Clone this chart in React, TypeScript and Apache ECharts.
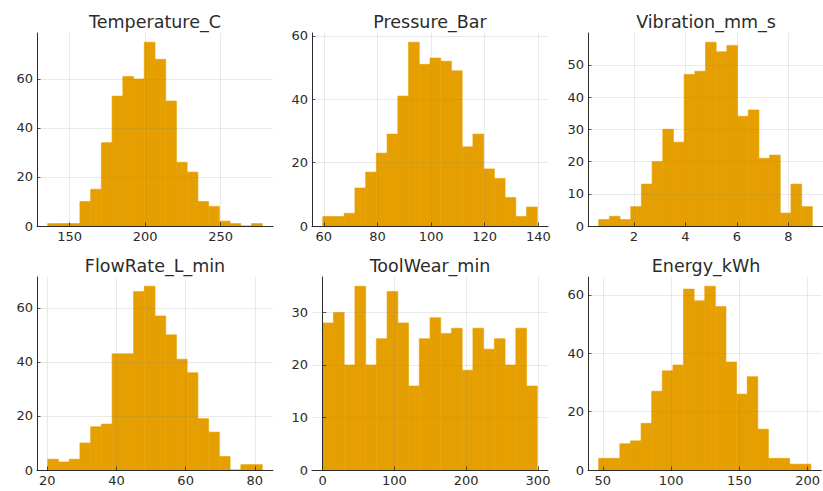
import React, { useEffect, useRef } from "react";
import * as echarts from "echarts";

// ---- data ----
const titles = ["Temperature_C", "Pressure_Bar", "Vibration_mm_s", "FlowRate_L_min", "ToolWear_min", "Energy_kWh"];

const temperatureCounts = [1, 1, 1, 10, 15, 34, 53, 61, 60, 75, 68, 51, 26, 22, 10, 8, 2, 1, 0, 1];
const temperatureRange = [135.5, 277.5];
const temperatureXTicks = [150, 200, 250];
const temperatureYTicks = [0, 20, 40, 60];

const pressureCounts = [3, 3, 4, 12, 17, 23, 29, 41, 58, 51, 53, 52, 49, 25, 29, 18, 15, 9, 3, 6];
const pressureRange = [59.6, 139.6];
const pressureXTicks = [60, 80, 100, 120, 140];
const pressureYTicks = [0, 20, 40, 60];

const vibrationCounts = [2, 3, 2, 6, 13, 20, 30, 26, 47, 48, 57, 54, 56, 34, 36, 21, 22, 4, 13, 6];
const vibrationRange = [0.634, 8.93];
const vibrationXTicks = [2, 4, 6, 8];
const vibrationYTicks = [0, 10, 20, 30, 40, 50];

const flowCounts = [4, 3, 4, 10, 16, 17, 43, 43, 66, 68, 57, 50, 41, 36, 19, 14, 5, 0, 2, 2];
const flowRange = [20.15, 82.15];
const flowXTicks = [20, 40, 60, 80];
const flowYTicks = [0, 20, 40, 60];

const toolWearCounts = [28, 30, 20, 35, 20, 25, 34, 28, 16, 25, 29, 26, 27, 19, 27, 23, 25, 20, 27, 16];
const toolWearRange = [0, 299];
const toolWearXTicks = [0, 100, 200, 300];
const toolWearYTicks = [0, 10, 20, 30];

const energyCounts = [4, 4, 9, 10, 16, 27, 34, 36, 62, 58, 63, 56, 37, 26, 32, 14, 4, 4, 2, 2];
const energyRange = [46.9, 202.4];
const energyXTicks = [50, 100, 150, 200];
const energyYTicks = [0, 20, 40, 60];

const panels = [
  { title: titles[0], counts: temperatureCounts, range: temperatureRange, xTicks: temperatureXTicks, yTicks: temperatureYTicks },
  { title: titles[1], counts: pressureCounts, range: pressureRange, xTicks: pressureXTicks, yTicks: pressureYTicks },
  { title: titles[2], counts: vibrationCounts, range: vibrationRange, xTicks: vibrationXTicks, yTicks: vibrationYTicks },
  { title: titles[3], counts: flowCounts, range: flowRange, xTicks: flowXTicks, yTicks: flowYTicks },
  { title: titles[4], counts: toolWearCounts, range: toolWearRange, xTicks: toolWearXTicks, yTicks: toolWearYTicks },
  { title: titles[5], counts: energyCounts, range: energyRange, xTicks: energyXTicks, yTicks: energyYTicks },
];

// ---- layout ----
const colLeft = [37, 312, 588];
const rowTop = [33, 277];
const plotW = 236;
const plotH = 193;
const FONT = "DejaVu Sans";
const BAR = "#E69F00";
const INK = "#2b2b2b";

export default function App() {
  const ref = useRef<HTMLDivElement>(null);
  useEffect(() => {
    if (!ref.current) return;
    const chart = echarts.init(ref.current, undefined, { renderer: "svg" });

    const grid: any[] = [];
    const xAxis: any[] = [];
    const yAxis: any[] = [];
    const series: any[] = [];
    const title: any[] = [];

    panels.forEach((p, i) => {
      const col = i % 3;
      const row = Math.floor(i / 3);
      const [lo, hi] = p.range;
      const n = p.counts.length;
      const w = (hi - lo) / n;
      const span = hi - lo;
      const maxC = Math.max(...p.counts);

      grid.push({ left: colLeft[col], top: rowTop[row], width: plotW, height: plotH, containLabel: false });
      title.push({
        text: p.title,
        left: colLeft[col] + plotW / 2,
        top: rowTop[row] - 20,
        textAlign: "center",
        padding: 0,
        textStyle: { fontFamily: FONT, fontSize: 17.5, fontWeight: "normal", color: INK },
      });
      xAxis.push({
        type: "value",
        gridIndex: i,
        min: lo - 0.05 * span,
        max: hi + 0.05 * span,
        z: 3,
        axisLine: { show: true, onZero: false, lineStyle: { color: INK, width: 1 } },
        axisTick: { show: true, inside: true, length: 3.5, customValues: p.xTicks, lineStyle: { color: INK, width: 0.8 } },
        axisLabel: { customValues: p.xTicks, margin: 4, fontSize: 13, color: INK, fontFamily: FONT },
        splitLine: { show: true, lineStyle: { color: "rgba(128,128,128,0.22)", width: 0.8 } },
      });
      yAxis.push({
        type: "value",
        gridIndex: i,
        min: 0,
        max: maxC * 1.05,
        z: 3,
        axisLine: { show: true, lineStyle: { color: INK, width: 1 } },
        axisTick: { show: true, inside: true, length: 3.5, customValues: p.yTicks, lineStyle: { color: INK, width: 0.8 } },
        axisLabel: { customValues: p.yTicks, margin: 4, fontSize: 13, color: INK, fontFamily: FONT },
        splitLine: { show: true, lineStyle: { color: "rgba(128,128,128,0.22)", width: 0.8 } },
      });
      series.push({
        type: "custom",
        xAxisIndex: i,
        yAxisIndex: i,
        clip: true,
        encode: { x: [0, 1], y: 2 },
        data: p.counts.map((c, j) => [lo + j * w, lo + (j + 1) * w, c]),
        renderItem: (params: any, api: any) => {
          const a = api.coord([api.value(0), 0]);
          const b = api.coord([api.value(1), api.value(2)]);
          return {
            type: "rect",
            shape: { x: a[0], y: b[1], width: b[0] - a[0], height: a[1] - b[1] },
            style: { fill: BAR, stroke: BAR, lineWidth: 0.6 },
          };
        },
      });
    });

    chart.setOption({
      animation: false,
      backgroundColor: "#ffffff",
      title,
      grid,
      xAxis,
      yAxis,
      series,
    });
    return () => chart.dispose();
  }, []);

  return <div ref={ref} style={{ position: "fixed", left: 0, top: 0, width: 823, height: 491 }} />;
}
